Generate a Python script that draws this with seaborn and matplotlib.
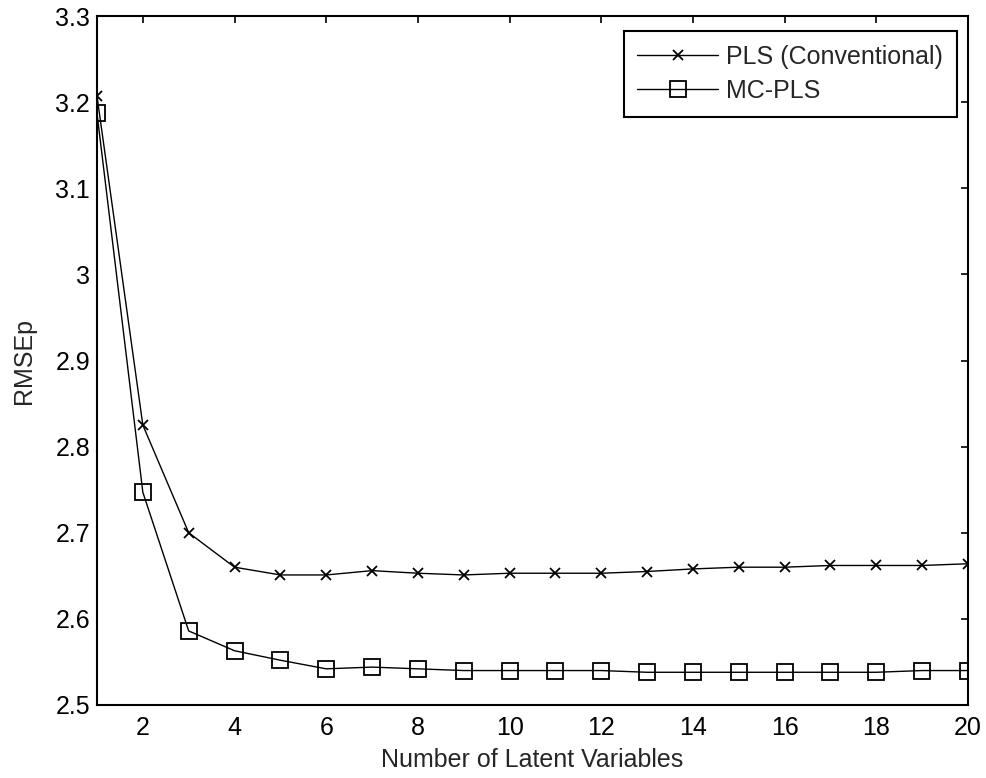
import matplotlib
matplotlib.use("Agg")
import matplotlib.pyplot as plt
import seaborn as sns

latent_vars = list(range(1, 21))
pls_conventional = [3.207, 2.825, 2.700, 2.660, 2.651, 2.651, 2.656, 2.653, 2.651, 2.653,
                    2.653, 2.653, 2.655, 2.658, 2.660, 2.660, 2.662, 2.662, 2.662, 2.664]
mc_pls = [3.187, 2.747, 2.586, 2.563, 2.552, 2.542, 2.544, 2.542, 2.540, 2.540,
          2.540, 2.540, 2.538, 2.538, 2.538, 2.538, 2.538, 2.538, 2.540, 2.540]
xticks = list(range(2, 21, 2))
yticks = [2.5, 2.6, 2.7, 2.8, 2.9, 3.0, 3.1, 3.2, 3.3]
ytick_labels = ["2.5", "2.6", "2.7", "2.8", "2.9", "3", "3.1", "3.2", "3.3"]

sns.set_style("white")
plt.rcParams['font.family'] = ['Liberation Sans', 'DejaVu Sans']
FS = 18

W, H = 987, 778
fig = plt.figure(figsize=(W / 100, H / 100), dpi=100)
L, R, T, B = 97, 968, 16, 705
ax = fig.add_axes([L / W, 1 - B / H, (R - L) / W, (B - T) / H])

sns.lineplot(x=latent_vars, y=pls_conventional, color="black", marker="x",
             markersize=7, markeredgewidth=1.3, markeredgecolor="black",
             linewidth=1.0, ax=ax, label="PLS (Conventional)")
sns.lineplot(x=latent_vars, y=mc_pls, color="black", marker="s",
             markersize=11, markerfacecolor="none", markeredgewidth=1.3,
             markeredgecolor="black", linewidth=1.0, ax=ax, label="MC-PLS")

ax.set_xlim(1, 20)
ax.set_ylim(2.5, 3.3)
ax.set_xticks(xticks)
ax.set_yticks(yticks)
ax.set_yticklabels(ytick_labels)
ax.tick_params(direction="in", top=True, right=True, length=5, width=1.2,
               labelsize=FS, colors="black")
ax.tick_params(axis="x", pad=8)
ax.tick_params(axis="y", pad=5)
for s in ax.spines.values():
    s.set_visible(True)
    s.set_color("black")
    s.set_linewidth(1.5)
ax.set_xlabel("Number of Latent Variables", fontsize=FS, labelpad=6)
ax.set_ylabel("RMSEp", fontsize=FS, labelpad=14)

# legend upper-right corner at pixel (957, 31)
anchor = ((957 - L) / (R - L), (B - 31) / (B - T))
leg = ax.legend(loc="upper right", bbox_to_anchor=anchor, borderaxespad=0,
                fontsize=FS, frameon=True, fancybox=False, edgecolor="black",
                framealpha=1, handlelength=3.24, handletextpad=0.32,
                labelspacing=0.4, borderpad=0.55)
leg.get_frame().set_linewidth(1.5)

fig.savefig("out.png", dpi=100)
